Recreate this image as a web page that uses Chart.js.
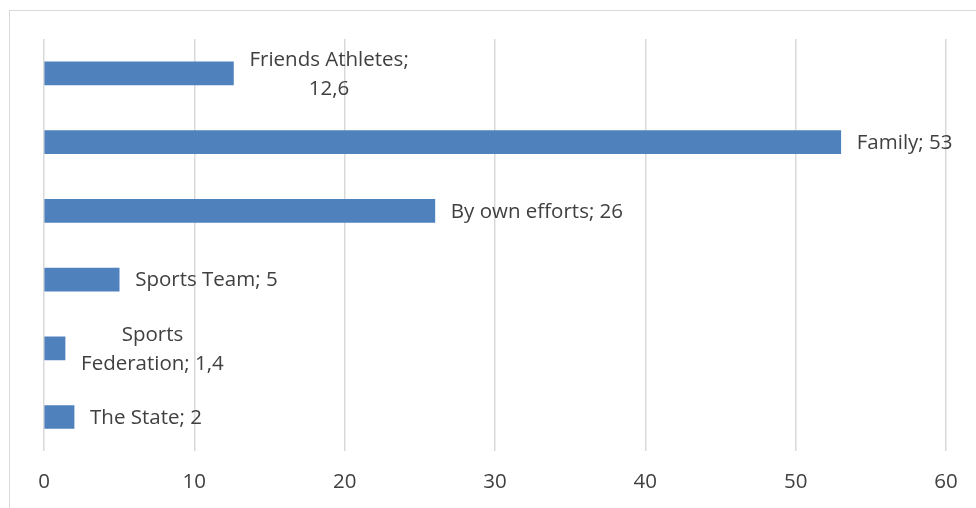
<!DOCTYPE html>
<html>
<head>
<meta charset="utf-8">
<script src="https://cdn.jsdelivr.net/npm/chart.js@4"></script>
<style>
  html, body { margin: 0; padding: 0; background: #fff; overflow: hidden; }
  #frame { position: absolute; left: 9px; top: 10px; width: 980px; height: 510px; border: 1px solid #d9d9d9; }
  #wrap { position: absolute; left: 0; top: 0; width: 976px; height: 508px; overflow: hidden; }
</style>
</head>
<body>
<div id="frame"></div>
<div id="wrap"><canvas id="mainChart" width="976" height="512"></canvas></div>
<script>
// ===== DATA =====
const categories = ["Friends Athletes", "Family", "By own efforts", "Sports Team", "Sports Federation", "The State"];
const values = [12.6, 53, 26, 5, 1.4, 2];
// label text as shown next to each bar (wrapped lines)
const labelLines = [
  ["Friends Athletes;", "12,6"],
  ["Family; 53"],
  ["By own efforts; 26"],
  ["Sports Team; 5"],
  ["Sports", "Federation; 1,4"],
  ["The State; 2"]
];
const xMin = 0;
const xMax = 60;
const xStep = 10;

const FONT = "'Open Sans', sans-serif";
const TEXT_COLOR = "#404040";

// ==========================
// Data labels beside the bars
// ==========================
const barLabels = {
  id: "barLabels",
  afterDatasetsDraw(chart) {
    const ctx = chart.ctx;
    const meta = chart.getDatasetMeta(0);
    ctx.save();
    ctx.font = "20.5px " + FONT;
    ctx.fillStyle = TEXT_COLOR;
    ctx.textBaseline = "middle";
    ctx.textAlign = "center";
    const gap = 16, lineH = 29;
    meta.data.forEach((bar, i) => {
      const lines = labelLines[i];
      const w = Math.max(...lines.map(l => ctx.measureText(l).width));
      const cx = bar.x + gap + w / 2;
      const y0 = bar.y + 1 - (lines.length - 1) * lineH / 2;
      lines.forEach((l, j) => ctx.fillText(l, cx, y0 + j * lineH));
    });
    ctx.restore();
  }
};

new Chart(document.getElementById("mainChart"), {
  type: "bar",
  data: {
    labels: categories,
    datasets: [{
      data: values,
      backgroundColor: "#4f81bd",
      barThickness: 23
    }]
  },
  options: {
    indexAxis: "y",
    responsive: false,
    animation: false,
    layout: { padding: { left: 44, right: 30, top: 39, bottom: 0 } },
    plugins: { legend: { display: false }, tooltip: { enabled: false } },
    scales: {
      x: {
        min: xMin,
        max: xMax,
        ticks: { stepSize: xStep, padding: 18, color: TEXT_COLOR, font: { family: FONT, size: 20.5 } },
        grid: { color: "#d9d9d9", lineWidth: 1.5, drawTicks: false },
        border: { display: false }
      },
      y: {
        display: false
      }
    }
  },
  plugins: [barLabels]
});
</script>
</body>
</html>
